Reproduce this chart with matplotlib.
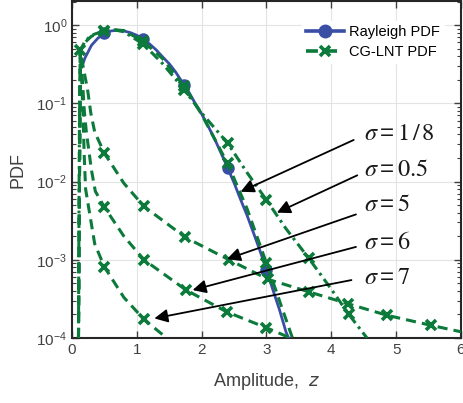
import numpy as np
import matplotlib
matplotlib.use("Agg")
import matplotlib.pyplot as plt
from matplotlib.lines import Line2D

plt.rcParams["font.family"] = ["Liberation Sans", "DejaVu Sans"]
plt.rcParams["mathtext.default"] = "regular"
plt.rcParams["axes.unicode_minus"] = False

# ------------------------------------------------------------
# Datos
# ------------------------------------------------------------

# Rayleigh PDF
RAY_Z = [0.15, 0.2, 0.3, 0.4, 0.5, 0.6, 0.7, 0.8, 0.9, 1.0, 1.1, 1.2, 1.3,
         1.4, 1.5, 1.6, 1.73, 1.8, 1.9, 2.0, 2.1, 2.2, 2.3, 2.4, 2.5, 2.6,
         2.7, 2.8, 2.9, 3.0, 3.1, 3.2, 3.3, 3.34]
RAY_P = [0.29, 0.38, 0.55, 0.68, 0.78, 0.84, 0.86, 0.84, 0.80, 0.74, 0.66,
         0.57, 0.48, 0.39, 0.32, 0.25, 0.17, 0.14, 0.10, 0.073, 0.051, 0.035,
         0.023, 0.015, 0.0096, 0.0059, 0.0037, 0.0022, 0.0013, 0.00074,
         0.00041, 0.00023, 0.00012, 0.0001]
RAY_MARK = [0.5, 1.1, 1.73, 2.4, 3.0]

# CG-LNT PDF, sigma = 1/8
S18_Z = [0.12, 0.13, 0.2, 0.3, 0.5, 0.65, 0.8, 1.1, 1.4, 1.73, 2.0, 2.4,
         2.7, 3.0, 3.2, 3.4]
S18_P = [0.4, 0.48, 0.6, 0.72, 0.83, 0.87, 0.85, 0.62, 0.37, 0.165, 0.072,
         0.017, 0.0045, 0.0009, 0.0003, 0.0001]
S18_MARK = [0.13, 0.5, 1.1, 1.73, 2.4, 3.0]

# CG-LNT PDF, sigma = 0.5
S05_Z = [0.10, 0.105, 0.11, 0.115, 0.12, 0.13, 0.2, 0.3, 0.5, 0.65, 0.8,
         1.1, 1.4, 1.73, 2.0, 2.4, 2.7, 3.0, 3.3, 3.65, 4.0, 4.27, 4.55]
S05_P = [0.0001, 0.001, 0.01, 0.06, 0.2, 0.48, 0.62, 0.74, 0.85, 0.87, 0.82,
         0.57, 0.32, 0.15, 0.075, 0.031, 0.013, 0.0058, 0.0025, 0.00105,
         0.00042, 0.0002, 0.0001]
S05_MARK = [0.5, 1.1, 1.73, 2.4, 3.0, 3.65, 4.27]

# CG-LNT PDF, sigma = 5
S5_Z = [0.10, 0.115, 0.13, 0.18, 0.24, 0.29, 0.35, 0.5, 0.8, 1.11, 1.75,
        2.42, 3.03, 3.65, 4.25, 4.86, 5.54, 6.0]
S5_P = [0.0001, 0.01, 0.45, 0.27, 0.15, 0.075, 0.043, 0.023, 0.0095, 0.0048,
        0.00193, 0.001, 0.00056, 0.00039, 0.000275, 0.000195, 0.000145,
        0.00012]
S5_MARK = [0.5, 1.11, 1.75, 2.42, 3.03, 3.65, 4.25, 4.86, 5.54]

# CG-LNT PDF, sigma = 6
S6_Z = [0.10, 0.115, 0.13, 0.16, 0.19, 0.22, 0.3, 0.36, 0.5, 0.8, 1.11,
        1.76, 2.39, 3.0, 3.37]
S6_P = [0.0001, 0.01, 0.45, 0.2, 0.08, 0.044, 0.014, 0.0075, 0.0047, 0.002,
        0.001, 0.00041, 0.000215, 0.000135, 0.0001]
S6_MARK = [0.5, 1.11, 1.76, 2.39, 3.0]

# CG-LNT PDF, sigma = 7
S7_Z = [0.10, 0.115, 0.13, 0.15, 0.17, 0.19, 0.21, 0.27, 0.35, 0.5, 0.8,
        1.11, 1.46]
S7_P = [0.0001, 0.01, 0.45, 0.2, 0.07, 0.02, 0.008, 0.004, 0.0016, 0.00081,
        0.00033, 0.000173, 0.0001]
S7_MARK = [0.5, 1.11]

# Etiquetas: texto, flecha (inicio -> punta), posicion del texto
ETIQUETAS = [r"$\mathit{\sigma} = \mathrm{1\,/\,8}$", r"$\mathit{\sigma} = \mathrm{0.5}$",
             r"$\mathit{\sigma} = \mathrm{5}$", r"$\mathit{\sigma} = \mathrm{6}$",
             r"$\mathit{\sigma} = \mathrm{7}$"]
FLECHA_INI = [(4.345, 0.034), (4.40, 0.012), (4.38, 0.0038),
              (4.38, 0.00146), (4.31, 0.00055)]
FLECHA_FIN = [(2.60, 0.0074), (3.16, 0.004), (2.39, 0.00102),
              (1.86, 0.00041), (1.27, 0.000178)]
TEXTO_POS = [(4.50, 0.0404), (4.50, 0.014), (4.50, 0.005),
             (4.50, 0.00163), (4.50, 0.00058)]

X_TICKS = [0, 1, 2, 3, 4, 5, 6]

AZUL = "#3a4ea6"
VERDE = "#0b7a3a"
GRIS = "#404040"


def idx_marcas(z, marcas):
    z = np.round(np.asarray(z), 3)
    return [int(i) for i in np.where(np.isin(z, np.round(marcas, 3)))[0]]


# ------------------------------------------------------------
# Figura
# ------------------------------------------------------------

fig = plt.figure(figsize=(4.64, 4.03), dpi=100)
ax = fig.add_axes([72 / 464, 1 - 338 / 403, 389 / 464, 337 / 403])

ax.plot(RAY_Z, RAY_P, color=AZUL, lw=2.0, marker="o", ms=8,
        markevery=idx_marcas(RAY_Z, RAY_MARK), zorder=3)

dash = (0, (3.3, 2.0))
dashdot = (0, (3.3, 1.5, 0.9, 1.5))
series = [
    (S18_Z, S18_P, S18_MARK, dash),
    (S05_Z, S05_P, S05_MARK, dashdot),
    (S5_Z, S5_P, S5_MARK, dash),
    (S6_Z, S6_P, S6_MARK, dash),
    (S7_Z, S7_P, S7_MARK, dash),
]
for z, p, m, ls in series:
    ax.plot(z, p, color=VERDE, lw=2.2, linestyle=ls, marker="x", ms=7,
            mew=2.6, markevery=idx_marcas(z, m), zorder=4)

ax.set_yscale("log")
ax.set_xlim(0, 6)
ax.set_ylim(1e-4, 2.03)
ax.set_xticks(X_TICKS)
ax.grid(True, which="major", color="#e3e3e3", lw=0.8)
ax.set_axisbelow(True)

ax.tick_params(which="both", direction="in", top=True, right=True,
               colors=GRIS, labelsize=11)
ax.tick_params(which="major", length=5, width=1.0)
ax.tick_params(which="minor", length=3, width=0.8)
for s in ax.spines.values():
    s.set_color("#262626")
    s.set_linewidth(1.5)

ax.set_xlabel(r"Amplitude,  $\mathit{z}$", color=GRIS, fontsize=13)
ax.set_ylabel("PDF", color=GRIS, fontsize=13)
ax.xaxis.set_label_coords(0.5, -(381.7 - 338) / 337)
ax.yaxis.set_label_coords(-(72 - 17.5) / 389, 0.5)
ax.xaxis.label.set_va("center")
ax.yaxis.label.set_va("center")

# Flechas y textos sigma
for txt, ini, fin, pos in zip(ETIQUETAS, FLECHA_INI, FLECHA_FIN, TEXTO_POS):
    ax.annotate("", xy=fin, xytext=ini,
                arrowprops=dict(arrowstyle="-|>", color="k", lw=1.3,
                                mutation_scale=20, shrinkA=0, shrinkB=0),
                zorder=6)
    ax.text(pos[0], pos[1], txt, fontsize=17.5, ha="left", va="center",
            math_fontfamily="stix", color="#1a1a1a", zorder=6)

# Leyenda
handles = [
    Line2D([], [], color=AZUL, lw=2.6, marker="o", ms=9),
    Line2D([], [], color=VERDE, lw=2.6, linestyle=dash, marker="x", ms=7,
           mew=2.6),
]
leg = ax.legend(handles, ["Rayleigh PDF", "CG-LNT PDF"], loc="upper left",
                bbox_to_anchor=((302 - 72) / 389, 1 - 20 / 337),
                fontsize=10.5, handlelength=2.6, handletextpad=0.3,
                borderpad=0.3, labelspacing=0.38, borderaxespad=0,
                frameon=True, fancybox=False, framealpha=1,
                facecolor="white", edgecolor="white")
leg.set_zorder(7)

fig.savefig("out.png", dpi=100)
